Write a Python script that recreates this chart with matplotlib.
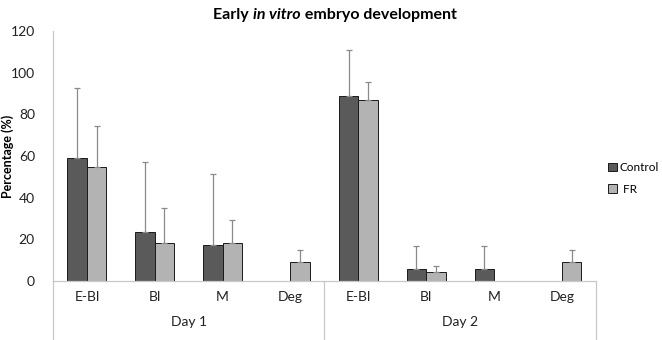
import matplotlib
matplotlib.use("Agg")
import matplotlib.pyplot as plt
import numpy as np

plt.rcParams['font.family'] = ['Lato', 'DejaVu Sans']

days = ["Day 1", "Day 2"]
stages = ["E-Bl", "Bl", "M", "Deg"]
control = [59, 23.4, 17.5, 0, 89, 5.6, 5.6, 0]
control_err = [33.5, 33.8, 33.9, 0, 22, 11.3, 11.3, 0]
fr = [54.8, 18.1, 18.1, 9.2, 87, 4.3, 0, 9.2]
fr_err = [19.6, 16.9, 11.3, 5.6, 8.6, 3.1, 0, 5.6]

fig = plt.figure(figsize=(6.62, 3.40), dpi=100)
ax = fig.add_axes([0.080, 0.1735, 0.820, 0.7355])

n = len(control)
x = np.arange(n)
w = 0.287
c_ctrl = "#5a5a5a"
c_fr = "#b3b3b3"
ecol = "#8a8a8a"

def draw(xs, vals, errs, color, label):
    ax.bar(xs, vals, w, color=color, edgecolor="#1a1a1a", linewidth=0.7, label=label, zorder=2)
    for xi, v, e in zip(xs, vals, errs):
        if e > 0:
            ax.errorbar([xi], [v], yerr=[[0], [e]], fmt="none", ecolor=ecol,
                        elinewidth=0.9, capsize=2.5, capthick=0.9, zorder=3)

draw(x - w / 2, control, control_err, c_ctrl, "Control")
draw(x + w / 2, fr, fr_err, c_fr, " FR")

ax.set_xlim(-0.5, n - 0.5)
ax.set_ylim(0, 120)
ax.set_yticks(np.arange(0, 121, 20))
ax.tick_params(axis="y", length=0, labelsize=10, colors="#222222", pad=13)
ax.set_xticks([])
for s in ["top", "right"]:
    ax.spines[s].set_visible(False)
ax.spines["left"].set_color("#c8c8c8")
ax.spines["bottom"].set_color("#c8c8c8")
ax.spines["left"].set_linewidth(0.9)
ax.spines["bottom"].set_linewidth(0.9)

ax.set_ylabel("Percentage (%)", fontsize=9, fontweight="bold")
ax.yaxis.set_label_coords(-0.071, 0.5)

# category labels
trans = ax.get_xaxis_transform()
for i in range(n):
    ax.text(x[i], -0.065, stages[i % 4], transform=trans, ha="center", va="center",
            fontsize=10, color="#222222")
for d, name in enumerate(days):
    ax.text(d * 4 + 1.5, -0.165, name, transform=trans, ha="center", va="center",
            fontsize=10, color="#222222")
for xv in [-0.5, 3.5, 7.5]:
    ax.plot([xv, xv], [0, -0.245], transform=trans, color="#c8c8c8", lw=0.9, clip_on=False)

# title with italic part
t1 = fig.text(0.343, 0.955, "Early ", fontsize=11.5, fontweight="bold", va="center", ha="left")
t2 = ax.annotate("in vitro", xycoords=t1, xy=(1, 0), va="bottom", ha="left",
                 fontsize=11.5, fontweight="bold", fontstyle="italic")
t3 = ax.annotate(" embryo development", xycoords=t2, xy=(1, 0), va="bottom", ha="left",
                 fontsize=11.5, fontweight="bold")

leg = fig.legend(loc="center left", bbox_to_anchor=(0.918, 0.475), frameon=False,
                 fontsize=8.5, handlelength=0.75, handleheight=0.75, handletextpad=0.25,
                 labelspacing=0.9, borderpad=0, borderaxespad=0)

fig.canvas.draw()
bb1 = t1.get_window_extent()
bb3 = t3.get_window_extent()
width = bb3.x1 - bb1.x0
left = 335 - width / 2
t1.set_x(left / fig.bbox.width)

fig.savefig("out.png", dpi=100)
